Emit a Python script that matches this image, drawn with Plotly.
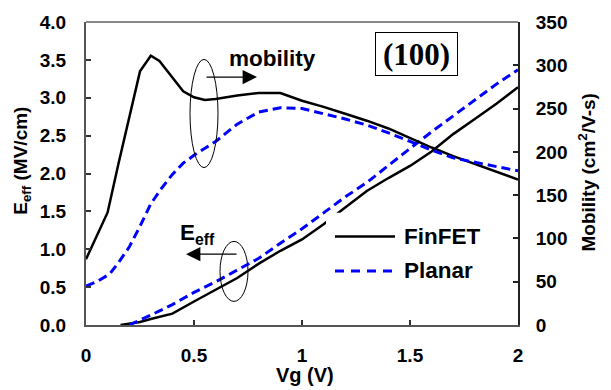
import plotly.graph_objects as go

# ---- data ----
vg_fin_mob = [0, 0.04, 0.1, 0.15, 0.2, 0.25, 0.3, 0.34, 0.4, 0.45, 0.5, 0.55, 0.6, 0.7,
              0.8, 0.9, 1.0, 1.1, 1.2, 1.3, 1.4, 1.5, 1.6, 1.7, 1.8, 1.9, 2.0]
mob_fin = [76, 97, 130, 186, 241, 293, 311, 305, 286, 270, 263, 260, 261, 265,
           268, 268, 259, 252, 244, 236, 227, 216, 205, 195, 186, 177, 168]

vg_pl_mob = [0, 0.05, 0.11, 0.15, 0.2, 0.25, 0.3, 0.35, 0.4, 0.45, 0.5, 0.6, 0.7,
             0.8, 0.9, 1.0, 1.1, 1.2, 1.3, 1.4, 1.5, 1.6, 1.7, 1.8, 1.9, 2.0]
mob_pl = [45, 50, 59, 72, 90, 114, 140, 158, 174, 187, 196, 212, 232,
          246, 251, 250, 244, 238, 231, 222, 212, 202, 193, 188, 183, 178]

vg_fin_e = [0.16, 0.25, 0.3, 0.4, 0.5, 0.6, 0.7, 0.8, 0.9, 1.0, 1.1, 1.2, 1.3,
            1.4, 1.5, 1.6, 1.7, 1.8, 1.9, 2.0]
e_fin = [0.0, 0.04, 0.08, 0.15, 0.31, 0.47, 0.62, 0.81, 0.98, 1.13, 1.33, 1.55, 1.77,
         1.94, 2.10, 2.29, 2.52, 2.72, 2.92, 3.14]

vg_pl_e = [0.2, 0.25, 0.3, 0.4, 0.5, 0.6, 0.7, 0.8, 0.9, 1.0, 1.1, 1.2, 1.3,
           1.4, 1.5, 1.6, 1.7, 1.8, 1.9, 2.0]
e_pl = [0.0, 0.06, 0.13, 0.27, 0.43, 0.57, 0.72, 0.88, 1.08, 1.27, 1.48, 1.69, 1.88,
        2.11, 2.33, 2.55, 2.76, 2.97, 3.18, 3.37]

x_tickvals = [0, 0.5, 1, 1.5, 2]
x_ticktext = ["0", "0.5", "1", "1.5", "2"]
y_tickvals = [0, 0.5, 1.0, 1.5, 2.0, 2.5, 3.0, 3.5, 4.0]
y_ticktext = ["0.0", "0.5", "1.0", "1.5", "2.0", "2.5", "3.0", "3.5", "4.0"]
y2_tickvals = [0, 50, 100, 150, 200, 250, 300, 350]
y2_ticktext = ["0", "50", "100", "150", "200", "250", "300", "350"]

# ---- layout helpers (pixel -> paper) ----
L, R, T, B = 86, 518, 17, 325
W, H = 611, 390


def px(x):
    return (x - L) / (R - L)


def py(y):
    return (B - y) / (B - T)


def bold(s):
    return "<b>" + s + "</b>"


FONT = "Liberation Sans, Arial, sans-serif"
BLUE = "#0000FF"

fig = go.Figure()
solid = dict(color="black", width=2.5)
dashed = dict(color=BLUE, width=3, dash="9px,5px")

fig.add_trace(go.Scatter(x=vg_fin_e, y=e_fin, mode="lines", line=solid,
                         name="FinFET", showlegend=False))
fig.add_trace(go.Scatter(x=vg_pl_e, y=e_pl, mode="lines", line=dashed,
                         name="Planar", showlegend=False))
fig.add_trace(go.Scatter(x=vg_fin_mob, y=mob_fin, mode="lines", line=solid,
                         yaxis="y2", showlegend=False))
fig.add_trace(go.Scatter(x=vg_pl_mob, y=mob_pl, mode="lines", line=dashed,
                         yaxis="y2", showlegend=False))

tickfont = dict(family=FONT, size=19, color="black")

shapes = [
    # top border
    dict(type="line", xref="paper", yref="paper", x0=0, x1=1, y0=1, y1=1,
         line=dict(color="#888888", width=2)),
    # legend background (breaks the line like the original)
    dict(type="rect", xref="paper", yref="paper", x0=px(326), x1=px(484),
         y0=py(290), y1=py(211), fillcolor="white", line=dict(width=0), layer="above"),
    # legend samples
    dict(type="line", xref="paper", yref="paper", x0=px(335), x1=px(395),
         y0=py(235), y1=py(235), line=dict(color="black", width=2.5), layer="above"),
    dict(type="line", xref="paper", yref="paper", x0=px(335), x1=px(395),
         y0=py(270), y1=py(270), line=dict(color=BLUE, width=3, dash="9px,7px"),
         layer="above"),
    # ellipses
    dict(type="circle", xref="paper", yref="paper", x0=px(190), x1=px(218),
         y0=py(165), y1=py(55), line=dict(color="black", width=1)),
    dict(type="circle", xref="paper", yref="paper", x0=px(220), x1=px(248),
         y0=py(301), y1=py(240), line=dict(color="black", width=1)),
]


def label(text, x, y, size, angle=0, xanchor="center", family=FONT, **kw):
    d = dict(text=text, xref="paper", yref="paper", x=px(x), y=py(y),
             xanchor=xanchor, yanchor="middle", textangle=angle, showarrow=False,
             font=dict(family=family, size=size, color="black"))
    d.update(kw)
    return d


annotations = [
    # axis titles
    label(bold("Vg (V)"), 305, 376, 20),
    label(bold("E<sub>eff</sub> (MV/cm)"), 22, 158, 19, angle=-90),
    label(bold("Mobility (cm<sup>2</sup>/V-s)"), 587, 170, 19, angle=-90),
    # labels
    label(bold("mobility"), 272, 54, 22.5),
    label(bold("E<sub>eff</sub>"), 197, 233, 22.5),
    label(bold("(100)"), 416.5, 50, 31, family="Liberation Serif, Times New Roman, serif",
          bordercolor="black", borderwidth=1, borderpad=1, bgcolor="white",
          width=79, height=40),
    # legend text
    label(bold("FinFET"), 402, 235, 22.5, xanchor="left"),
    label(bold("Planar"), 402, 270, 22.5, xanchor="left"),
    # arrows
    dict(text="", xref="paper", yref="paper", x=px(257), y=py(73),
         axref="pixel", ayref="pixel", ax=-52, ay=0, showarrow=True,
         arrowhead=2, arrowsize=2.4, arrowwidth=1.2, arrowcolor="black"),
    dict(text="", xref="paper", yref="paper", x=px(186), y=py(253),
         axref="pixel", ayref="pixel", ax=52, ay=0, showarrow=True,
         arrowhead=2, arrowsize=2.4, arrowwidth=1.2, arrowcolor="black"),
]

fig.update_layout(
    width=W, height=H,
    margin=dict(l=L, r=W - R, t=T, b=H - B, pad=0),
    paper_bgcolor="white", plot_bgcolor="white",
    showlegend=False,
    xaxis=dict(range=[0, 2], tickvals=x_tickvals, ticktext=[bold(t) for t in x_ticktext],
               ticks="inside", ticklen=5, tickwidth=1.5, tickcolor="#333",
               showline=True, linecolor="#555", linewidth=2,
               showgrid=False, zeroline=False, tickfont=tickfont,
               ticklabelstandoff=12),
    yaxis=dict(range=[0, 4], tickvals=y_tickvals, ticktext=[bold(t) for t in y_ticktext],
               ticks="inside", ticklen=5, tickwidth=1.5, tickcolor="#333",
               showline=True, linecolor="#555", linewidth=2,
               showgrid=False, zeroline=False, tickfont=tickfont,
               ticklabelstandoff=14),
    yaxis2=dict(range=[0, 350], tickvals=y2_tickvals, ticktext=[bold(t) for t in y2_ticktext],
                overlaying="y", side="right",
                ticks="inside", ticklen=5, tickwidth=1.5, tickcolor="#222",
                showline=True, linecolor="#222", linewidth=2,
                showgrid=False, zeroline=False, tickfont=tickfont,
                ticklabelstandoff=12),
    shapes=shapes,
    annotations=annotations,
)

fig.write_html("out.html")
